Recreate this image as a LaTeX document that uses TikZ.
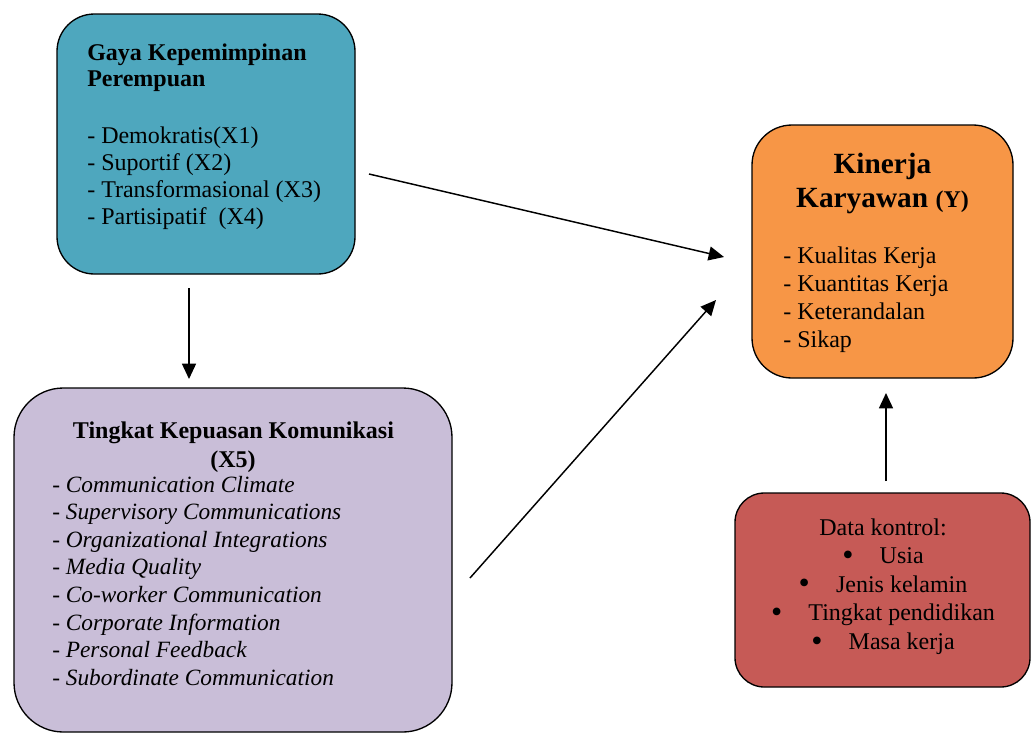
\documentclass[tikz,border=0pt]{standalone}
\usepackage{fontspec}
\setmainfont{Liberation Serif}
\usetikzlibrary{arrows.meta}

\definecolor{gayafill}{HTML}{4EA7BE}
\definecolor{kinerjafill}{HTML}{F79646}
\definecolor{puasfill}{HTML}{C9BED8}
\definecolor{datafill}{HTML}{C65A56}

\newcommand{\titik}{\makebox[28pt][l]{\raisebox{-1.2pt}{\fontsize{24}{0}\selectfont\textbullet}}}

\tikzset{
  box/.style={draw=black, line width=1pt},
  txt/.style={inner sep=0pt, font=\fontsize{18}{20.5}\selectfont},
  arr/.style={-{Triangle[length=11.5pt,width=10.5pt]}, line width=1.1pt},
}

\begin{document}
\begin{tikzpicture}[x=0.75pt, y=-0.75pt]
    \useasboundingbox (0,0) rectangle (1032,733);
    % kotak
    \node[box, fill=gayafill, rounded corners=28pt, minimum width=223.5pt, minimum height=195pt] (gaya) at (206,144) {};
    \node[box, fill=kinerjafill, rounded corners=30pt, minimum width=195.75pt, minimum height=189.75pt] (kinerja) at (882.5,251.5) {};
    \node[box, fill=puasfill, rounded corners=37pt, minimum width=328.5pt, minimum height=258pt] (puas) at (233,560) {};
    \node[box, fill=datafill, rounded corners=22pt, minimum width=221.25pt, minimum height=145.5pt] (data) at (882.5,590) {};

    % gaya kepemimpinan
    \node[txt, anchor=base west, font=\fontsize{18}{20.5}\selectfont\bfseries] (g1) at (87,60) {Gaya Kepemimpinan};
    \node[txt, anchor=base west, font=\fontsize{18}{20.5}\selectfont\bfseries] (g2) at (87,86) {Perempuan};
    \foreach \t [count=\i] in {- Demokratis(X1), - Suportif (X2), - Transformasional (X3), - Partisipatif~ (X4)}
        \node[txt, anchor=base west] (gx\i) at (87,143+27*\i-27) {\t};

    % kinerja
    \node[txt, anchor=base, font=\fontsize{22}{26}\selectfont\bfseries] (k1) at (882.5,173) {Kinerja};
    \node[txt, anchor=base, font=\fontsize{22}{26}\selectfont\bfseries] (k2) at (882.5,207) {Karyawan {\fontsize{18}{20.5}\selectfont(Y)}};
    \foreach \t [count=\i] in {Kualitas Kerja, Kuantitas Kerja, Keterandalan, Sikap}
        \node[txt, anchor=base west] (ky\i) at (783,263+28*\i-28) {- \t};

    % kepuasan komunikasi
    \node[txt, anchor=base, font=\fontsize{18}{20.5}\selectfont\bfseries] (p1) at (233.5,438) {Tingkat Kepuasan Komunikasi};
    \node[txt, anchor=base, font=\fontsize{18}{20.5}\selectfont\bfseries] (p2) at (233,467) {(X5)};
    \foreach \t [count=\i] in {Communication Climate, Supervisory Communications, Organizational Integrations, Media Quality, Co-worker Communication, Corporate Information, Personal Feedback, Subordinate Communication}
        \node[txt, anchor=base west, font=\fontsize{17.5}{20.5}\selectfont\itshape] (px\i) at (52,492+27.6*\i-27.6) {- \t};

    % data kontrol
    \node[txt, anchor=base] (d0) at (883,535) {Data kontrol:};
    \foreach \t [count=\i] in {Usia, Jenis kelamin, Tingkat pendidikan, Masa kerja}
        \node[txt, anchor=base] (dx\i) at (883,535+28.6*\i) {\titik\t};

    % panah
    \coordinate (a1) at (369,174);
    \coordinate (b1) at (724,257);
    \coordinate (a2) at (189,288);
    \coordinate (b2) at (189,379);
    \coordinate (a3) at (470,578);
    \coordinate (b3) at (716,300);
    \coordinate (a4) at (886,481);
    \coordinate (b4) at (886,393);
    \draw[arr] (a1) -- (b1);
    \draw[arr] (a2) -- (b2);
    \draw[arr] (a3) -- (b3);
    \draw[arr] (a4) -- (b4);
\end{tikzpicture}
\end{document}
